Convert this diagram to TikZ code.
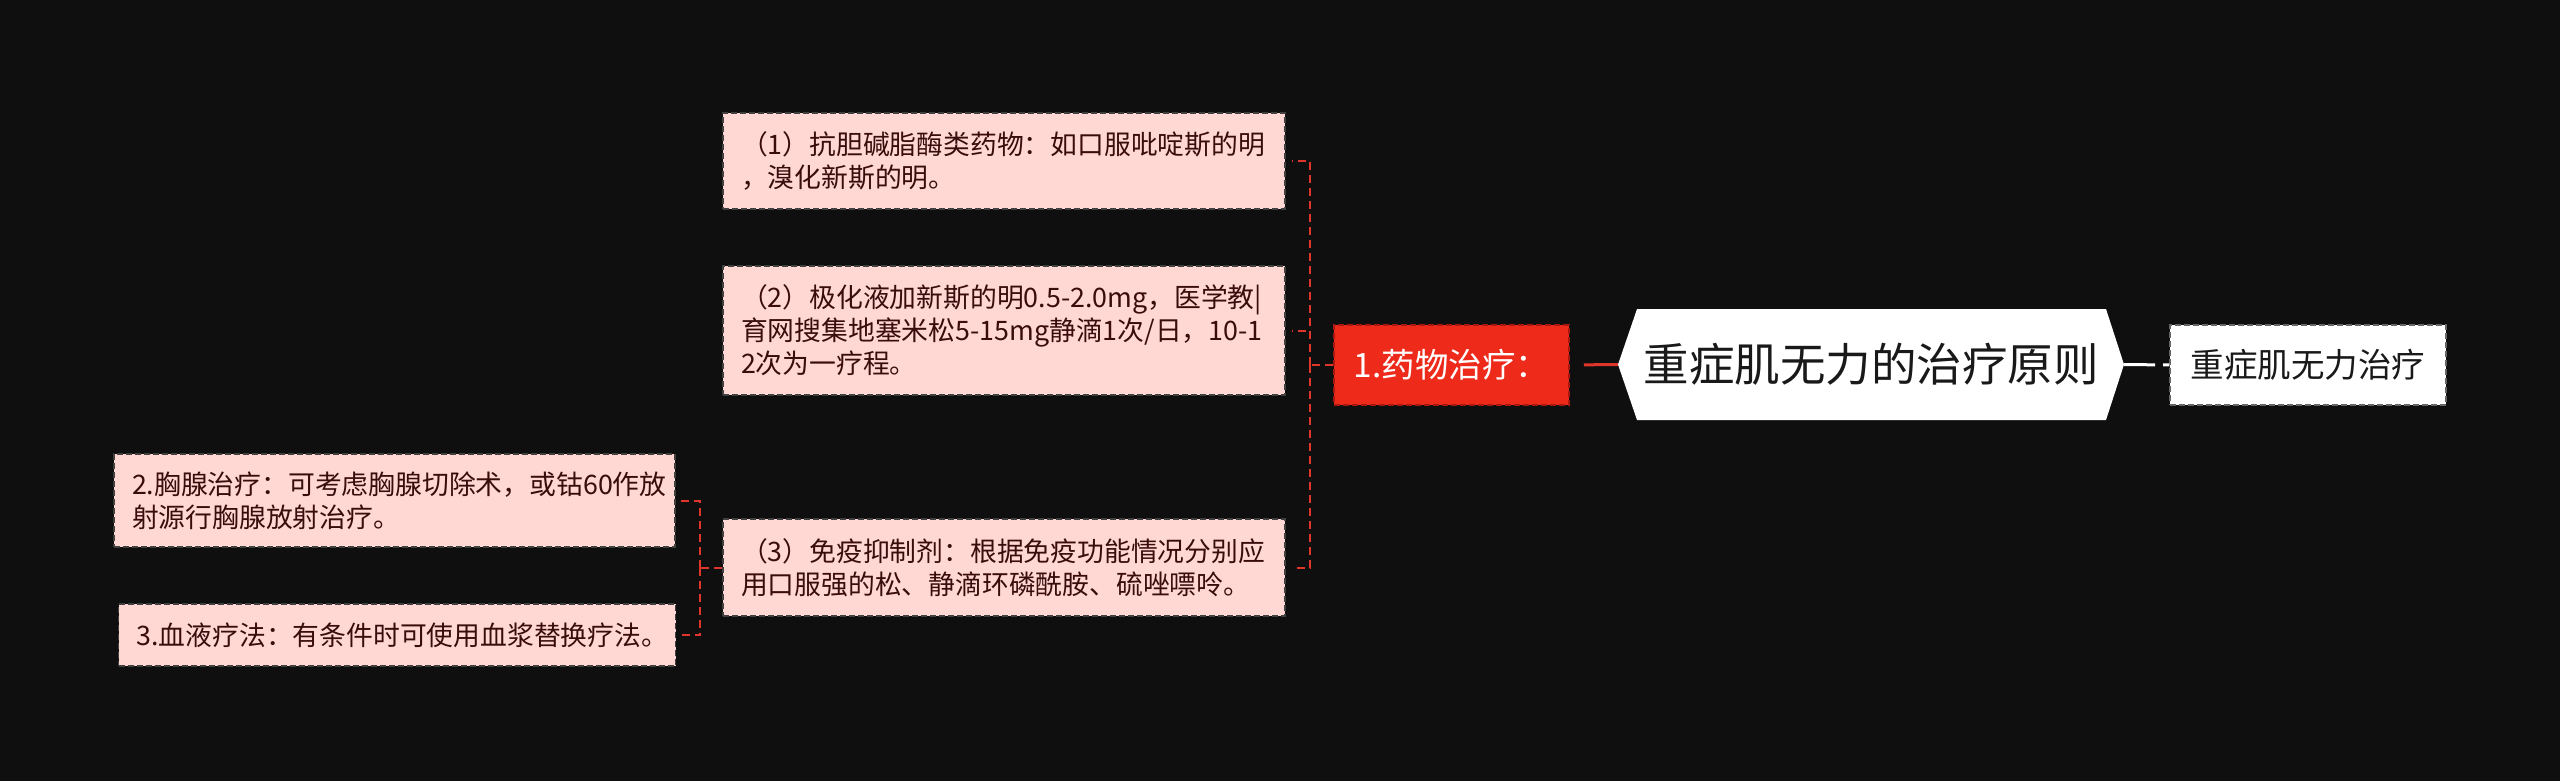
\documentclass[tikz,border=0pt]{standalone}
\usepackage{fontspec}
\setmainfont{Noto Sans CJK SC}
\definecolor{bgc}{HTML}{0F0F0F}
\definecolor{pinkf}{HTML}{FFD7D3}
\definecolor{txtc}{HTML}{3A0D0D}
\definecolor{redf}{HTML}{EE2A1B}
\definecolor{redd}{HTML}{A8180E}
\definecolor{linec}{HTML}{E0352A}
\tikzset{
  pbox/.style={draw=black!75, line width=1.5pt, dash pattern=on 6pt off 3pt, fill=pinkf, text=txtc,
    font=\fontsize{26.8}{33}\selectfont, align=left, inner xsep=0pt, inner ysep=0pt, anchor=center},
  conn/.style={draw=linec, line width=2pt, dash pattern=on 8pt off 5pt},
}
\begin{document}
\begin{tikzpicture}[x=1pt,y=-1pt]
\fill[bgc] (0,0) rectangle (2560,781);
\useasboundingbox (0,0) rectangle (2560,781);
% central hexagon
\fill[white] (1618,364.5) -- (1637,309) -- (2106,309) -- (2124,364.5) -- (2106,420) -- (1637,420) -- cycle;
\node[minimum width=506pt, minimum height=111pt, inner sep=0pt, text=black!90,
  font=\fontsize{45.5}{54}\selectfont] (c) at (1871,364.5) {重症肌无力的治疗原则};
% red box
\node[fill=redf, draw=redd, line width=1.5pt, dash pattern=on 6pt off 3pt, text=white,
  minimum width=235pt, minimum height=80pt, inner sep=0pt,
  font=\fontsize{33.5}{40}\selectfont] (red) at (1451.5,365) {1.药物治疗：};
% right box
\node[fill=white, draw=black!60, line width=1.5pt, dash pattern=on 6pt off 3pt, text=black!90,
  minimum width=276pt, minimum height=80pt, inner sep=0pt,
  font=\fontsize{33.5}{40}\selectfont] (r) at (2308,365) {重症肌无力治疗};
% child boxes
\node[pbox, minimum width=562pt, minimum height=96pt, text width=526pt] (b1) at (1004,161)
  {（1）抗胆碱脂酶类药物：如口服吡啶斯的明\\，溴化新斯的明。};
\node[pbox, minimum width=562pt, minimum height=129pt, text width=526pt] (b2) at (1004,330.5)
  {（2）极化液加新斯的明0.5-2.0mg，医学教|\\育网搜集地塞米松5-15mg静滴1次/日，10-1\\2次为一疗程。};
\node[pbox, minimum width=562pt, minimum height=97pt, text width=526pt] (b3) at (1004,567.5)
  {（3）免疫抑制剂：根据免疫功能情况分别应\\用口服强的松、静滴环磷酰胺、硫唑嘌呤。};
\node[pbox, minimum width=561pt, minimum height=93pt, text width=525pt] (l1) at (394.5,500.5)
  {2.胸腺治疗：可考虑胸腺切除术，或钴60作放\\射源行胸腺放射治疗。};
\node[pbox, minimum width=557pt, minimum height=62pt, text width=521pt] (l2) at (397,635)
  {3.血液疗法：有条件时可使用血浆替换疗法。};
% connectors
\draw[draw=linec, line width=3pt, dash pattern=on 42pt off 14pt, dash phase=42pt] (red.east) -- (c.west);
\draw[draw=white, line width=3pt, dash pattern=on 31pt off 8pt] (c.east) -- (r.west);
\coordinate (s1) at (1310,365);
\coordinate (s2) at (700,567.5);
\draw[conn] (red.west) -- (s1);
\draw[conn, shorten >=6pt] (s1) |- (b1.east);
\draw[conn, shorten >=6pt] (s1) |- (b2.east);
\draw[conn, shorten >=6pt] (s1) |- (b3.east);
\draw[conn] (b3.west) -- (s2);
\draw[conn, shorten >=4pt] (s2) |- (l1.east);
\draw[conn, shorten >=4pt] (s2) |- (l2.east);
\end{tikzpicture}
\end{document}
